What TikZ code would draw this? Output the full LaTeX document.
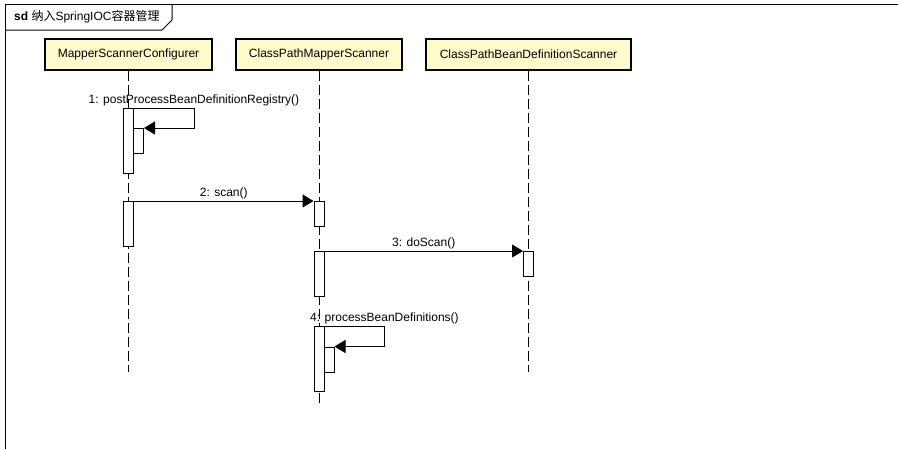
\documentclass[tikz,border=0pt]{standalone}
\usepackage{fontspec}
\setmainfont{Liberation Sans}
\newfontfamily\cjkfont{Noto Sans CJK SC}
\usetikzlibrary{arrows.meta, positioning}

\tikzset{
  lifehead/.style={draw, line width=2pt, fill=yellow!20, minimum height=31pt, inner sep=0pt, font=\fontsize{12}{14}\selectfont},
  actbar/.style={draw, fill=white, line width=1pt, minimum width=10pt, inner sep=0pt, anchor=north},
  msg/.style={line width=1pt, -{Triangle[length=11pt, width=13pt]}},
  lifeline/.style={line width=1pt, dash pattern=on 10pt off 4pt},
  msglabel/.style={font=\fontsize{12}{14}\selectfont, anchor=south, inner sep=1.5pt}
}

\begin{document}
\begin{tikzpicture}[x=1pt, y=-1pt]
    \useasboundingbox[fill=white] (0,0) rectangle (898,448);

    % frame and its tab
    \draw[line width=1pt] (5.5,470) |- (920,4.5);
    \draw[line width=1pt] (5.5,30) -- (162,30) -- (172,20) -- (172,4.5);
    \node[anchor=west, inner sep=0pt, font=\fontsize{12}{14}\selectfont] (title) at (14,17) {\textbf{sd} {\cjkfont 纳入}SpringIOC{\cjkfont 容器管理}};

    % lifeline heads
    \node[lifehead, minimum width=167pt] (mapper) at (128.5,54.5) {MapperScannerConfigurer};
    \node[lifehead, minimum width=166pt] (cpms) at (319,54.5) {ClassPathMapperScanner};
    \node[lifehead, minimum width=205pt] (cpbds) at (528.5,54.5) {ClassPathBeanDefinitionScanner};

    \coordinate (mapperend) at (128.5,372);
    \coordinate (cpmsend) at (319,407);
    \coordinate (cpbdsend) at (528.5,372);
    \draw[lifeline] (mapper.south) -- (mapperend);
    \draw[lifeline] (cpms.south) -- (cpmsend);
    \draw[lifeline] (cpbds.south) -- (cpbdsend);

    % activation bars
    \node[actbar, minimum height=65pt] (a1) at (128.5,108) {};
    \node[actbar, minimum height=25pt] (n1) at (138.5,128) {};
    \node[actbar, minimum height=45pt] (a2) at (128.5,201) {};
    \node[actbar, minimum height=25pt] (b1) at (319,201) {};
    \node[actbar, minimum height=45pt] (b2) at (319,251) {};
    \node[actbar, minimum height=25pt] (c1) at (528.5,251) {};
    \node[actbar, minimum height=65pt] (b3) at (319,326) {};
    \node[actbar, minimum height=25pt] (n3) at (329,346.5) {};

    % messages
    \draw[msg] (a1.north east) -- ++(60,0) node[msglabel] {1: postProcessBeanDefinitionRegistry()} |- (n1.north east);
    \draw[msg] (a2.north east) -- node[msglabel] {2: scan()} (b1.north west);
    \draw[msg] (b2.north east) -- node[msglabel] {3: doScan()} (c1.north west);
    \draw[msg] (b3.north east) -- ++(60,0) node[msglabel] {4: processBeanDefinitions()} |- (n3.north east);
\end{tikzpicture}
\end{document}
